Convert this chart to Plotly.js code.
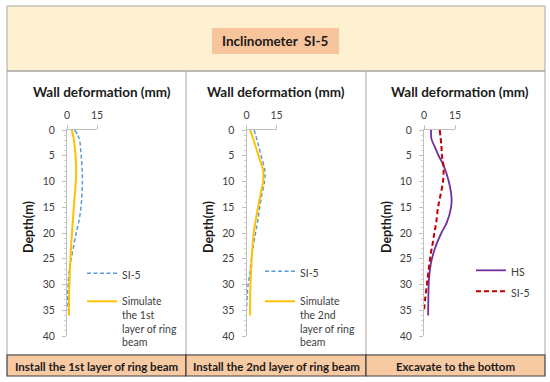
<!DOCTYPE html>
<html><head><meta charset="utf-8">
<script src="https://cdn.plot.ly/plotly-3.0.1.min.js"></script>
<style>html,body{margin:0;padding:0;background:#fff}#chart{width:550px;height:382px}</style>
</head><body><div id="chart"></div>
<script>
// ---- Data (wall deformation in mm vs depth in m) ----
const p1Si5Depth = [0, 1, 2, 5, 8, 10, 12, 15, 18, 20, 22, 25, 27, 30, 32, 35];
const p1Si5Defl  = [3.8, 5.4, 6.3, 7.1, 7.6, 7.7, 7.5, 7.0, 5.8, 4.6, 3.6, 2.1, 1.2, 0.6, 0.3, 0];
const p1SimDepth = [0, 2, 5, 8, 10, 15, 20, 25, 30, 33, 36];
const p1SimDefl  = [2.4, 3.5, 4.3, 4.6, 4.4, 3.4, 2.5, 1.7, 1.2, 1.0, 1.0];

const p2Si5Depth = [0, 2, 3, 5, 8, 10, 12, 15, 18, 20, 22, 25, 28, 30, 32, 35];
const p2Si5Defl  = [3.8, 5.3, 6.0, 7.3, 9.2, 9.0, 8.0, 6.6, 5.5, 4.5, 3.6, 2.5, 1.6, 0.8, 0.4, 0];
const p2SimDepth = [0, 2, 5, 8, 10, 12, 15, 18, 20, 25, 30, 33, 36];
const p2SimDefl  = [1.8, 3.6, 6.0, 8.4, 8.3, 7.3, 5.8, 4.4, 3.6, 2.6, 2.0, 1.8, 1.8];

const p3HsDepth  = [0, 1.5, 2, 3, 5, 7, 10, 13, 15, 18, 20, 22, 24, 26, 29, 33, 36];
const p3HsDefl   = [3.4, 3.5, 3.8, 4.9, 7.1, 9.6, 12.0, 13.3, 13.1, 11.0, 8.4, 6.2, 4.5, 3.3, 2.4, 2.1, 2.0];
const p3Si5Depth = [0, 3, 5, 7, 10, 13, 15, 18, 20, 22, 24, 27, 30, 33, 35];
const p3Si5Defl  = [7.6, 8.4, 8.7, 9.4, 9.2, 7.8, 6.8, 5.9, 5.0, 4.2, 3.3, 2.3, 1.4, 0.5, 0];

const xTickVals = [0, 15];
const yTickVals = [0, 5, 10, 15, 20, 25, 30, 35, 40];

const headerTitle = 'Inclinometer  SI-5';
const panelTitle = 'Wall deformation (mm)';
const yTitle = 'Depth(m)';
const stageLabels = ['Install the 1st layer of ring beam', 'Install the 2nd layer of ring beam', 'Excavate to the bottom'];
const nameSi5 = 'SI-5';
const nameSim1 = 'Simulate<br>the 1st<br>layer of ring<br>beam';
const nameSim2 = 'Simulate<br>the 2nd<br>layer of ring<br>beam';
const nameHs = 'HS';

// ---- Layout helpers ----
const W = 550, H = 382;
const px = x => x / W, py = y => 1 - y / H;
const FONT = 'Lato, "Open Sans", sans-serif';
const TXT = '#404040';

const blue = '#5B9BD5', gold = '#FFC000', purple = '#7030A0', red = '#C00000';

const traces = [
  {x: p1Si5Defl, y: p1Si5Depth, xaxis: 'x', yaxis: 'y', name: nameSi5, legend: 'legend', legendgroup: 'a1',
   mode: 'lines', line: {color: blue, width: 1.5, dash: '4px,2.5px', shape: 'spline'}},
  {x: p1SimDefl, y: p1SimDepth, xaxis: 'x', yaxis: 'y', name: nameSim1, legend: 'legend', legendgroup: 'b1',
   mode: 'lines', line: {color: gold, width: 2, shape: 'spline'}},
  {x: p2Si5Defl, y: p2Si5Depth, xaxis: 'x2', yaxis: 'y2', name: nameSi5, legend: 'legend2', legendgroup: 'a2',
   mode: 'lines', line: {color: blue, width: 1.5, dash: '4px,2.5px', shape: 'spline'}},
  {x: p2SimDefl, y: p2SimDepth, xaxis: 'x2', yaxis: 'y2', name: nameSim2, legend: 'legend2', legendgroup: 'b2',
   mode: 'lines', line: {color: gold, width: 2, shape: 'spline'}},
  {x: p3HsDefl, y: p3HsDepth, xaxis: 'x3', yaxis: 'y3', name: nameHs, legend: 'legend3', legendgroup: 'a3',
   mode: 'lines', line: {color: purple, width: 1.8, shape: 'spline'}},
  {x: p3Si5Defl, y: p3Si5Depth, xaxis: 'x3', yaxis: 'y3', name: nameSi5, legend: 'legend3', legendgroup: 'b3',
   mode: 'lines', line: {color: red, width: 2, dash: '5px,3px', shape: 'spline'}}
];

function xAxis(x0, x1, yAnchor) {
  return {domain: [px(x0), px(x1)], anchor: yAnchor, side: 'top', range: [0, 15],
    tickvals: xTickVals, ticktext: xTickVals.map(String), showline: true, linecolor: '#BFBFBF', linewidth: 1,
    ticks: 'outside', ticklen: 4, tickcolor: '#BFBFBF', showgrid: false, zeroline: false,
    tickfont: {family: FONT, size: 10.5, color: TXT}, ticklabelstandoff: 2, fixedrange: true};
}
function yAxis(xAnchor) {
  return {domain: [py(336), py(130)], anchor: xAnchor, range: [40, 0],
    tickvals: yTickVals, showline: true, linecolor: '#BFBFBF', linewidth: 1,
    ticks: 'outside', ticklen: 4, tickcolor: '#BFBFBF', showgrid: false, zeroline: false,
    minor: {dtick: 1, ticks: 'outside', ticklen: 2, tickcolor: '#D0D0D0', showgrid: false},
    tickfont: {family: FONT, size: 10.5, color: TXT}, ticklabelstandoff: 5, fixedrange: true};
}

const legendBase = {font: {family: FONT, size: 10.5, color: TXT}, bgcolor: 'rgba(0,0,0,0)',
  xanchor: 'left', yanchor: 'top', valign: 'top', itemclick: false, itemdoubleclick: false};

const shapes = [
  {type: 'rect', xref: 'paper', yref: 'paper', x0: px(7), x1: px(545), y0: py(71), y1: py(6),
   fillcolor: '#FDF1D2', line: {color: '#A6A6A6', width: 1}, layer: 'below'},
  {type: 'rect', xref: 'paper', yref: 'paper', x0: px(212), x1: px(339), y0: py(54), y1: py(28),
   fillcolor: '#F8C49C', line: {width: 0}, layer: 'below'},
  {type: 'rect', xref: 'paper', yref: 'paper', x0: px(7), x1: px(545), y0: py(355), y1: py(71),
   fillcolor: 'rgba(0,0,0,0)', line: {color: '#A6A6A6', width: 1}, layer: 'below'},
  {type: 'line', xref: 'paper', yref: 'paper', x0: px(186), x1: px(186), y0: py(355), y1: py(71),
   line: {color: '#A6A6A6', width: 1}, layer: 'below'},
  {type: 'line', xref: 'paper', yref: 'paper', x0: px(366), x1: px(366), y0: py(355), y1: py(71),
   line: {color: '#A6A6A6', width: 1}, layer: 'below'}
];
const boxEdges = [[7, 186], [186, 366], [366, 545]];
boxEdges.forEach(([a, b]) => shapes.push({type: 'rect', xref: 'paper', yref: 'paper',
  x0: px(a), x1: px(b), y0: py(376), y1: py(355), fillcolor: '#F8CAA4',
  line: {color: '#404040', width: 1.2}, layer: 'below'}));

const annotations = [
  {text: '<b>' + headerTitle + '</b>', xref: 'paper', yref: 'paper', x: px(275.5), y: py(41),
   showarrow: false, font: {family: FONT, size: 13.5, color: '#1a1a1a'}, xanchor: 'center', yanchor: 'middle'}
];
const titleCenters = [101.5, 275.5, 460];
titleCenters.forEach(cx => annotations.push({text: '<b>' + panelTitle + '</b>', xref: 'paper', yref: 'paper',
  x: px(cx), y: py(92), showarrow: false, font: {family: FONT, size: 13.5, color: '#1a1a1a'},
  xanchor: 'center', yanchor: 'middle'}));
const yTitleX = [28, 208, 386];
yTitleX.forEach(cx => annotations.push({text: '<b>' + yTitle + '</b>', xref: 'paper', yref: 'paper',
  x: px(cx), y: py(227), showarrow: false, textangle: -90, font: {family: FONT, size: 12.5, color: '#1a1a1a'},
  xanchor: 'center', yanchor: 'middle'}));
stageLabels.forEach((t, i) => annotations.push({text: '<b>' + t + '</b>', xref: 'paper', yref: 'paper',
  x: px((boxEdges[i][0] + boxEdges[i][1]) / 2), y: py(366), showarrow: false,
  font: {family: FONT, size: 11.5, color: '#1a1a1a'}, xanchor: 'center', yanchor: 'middle'}));

const layout = {
  width: W, height: H, margin: {l: 0, r: 0, t: 0, b: 0},
  paper_bgcolor: '#ffffff', plot_bgcolor: 'rgba(0,0,0,0)', showlegend: true,
  xaxis: xAxis(67, 97, 'y'), yaxis: yAxis('x'),
  xaxis2: xAxis(246.5, 276.5, 'y2'), yaxis2: yAxis('x2'),
  xaxis3: xAxis(424, 455, 'y3'), yaxis3: yAxis('x3'),
  legend: Object.assign({}, legendBase, {x: px(82), y: py(260), tracegroupgap: 9}),
  legend2: Object.assign({}, legendBase, {x: px(260), y: py(258), tracegroupgap: 11}),
  legend3: Object.assign({}, legendBase, {x: px(471), y: py(257), tracegroupgap: 2}),
  shapes: shapes, annotations: annotations
};

Plotly.newPlot('chart', traces, layout, {displayModeBar: false, staticPlot: true});
</script>
</body></html>
